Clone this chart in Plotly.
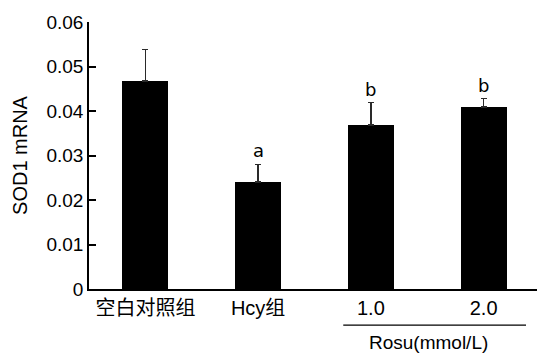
import plotly.graph_objects as go

categories = ["空白对照组", "Hcy组", "1.0", "2.0"]
means = [0.0467, 0.0241, 0.0368, 0.0409]
errors = [0.0071, 0.0039, 0.0051, 0.0019]
letters = ["", "a", "b", "b"]
y_ticks = [0, 0.01, 0.02, 0.03, 0.04, 0.05, 0.06]
y_tick_text = ["0", "0.01", "0.02", "0.03", "0.04", "0.05", "0.06"]
group_label = "Rosu(mmol/L)"
y_title = "SOD1 mRNA"

FONT = "Liberation Sans, Arial, Noto Sans CJK SC, sans-serif"

fig = go.Figure()
fig.add_trace(go.Bar(
    x=list(range(len(categories))),
    y=means,
    width=0.41,
    marker=dict(color="black", line=dict(width=0)),
    error_y=dict(type="data", array=errors, symmetric=False, arrayminus=[0]*len(errors),
                 color="#2a2a2a", thickness=1.5, width=3),
))

for i, (m, e, t) in enumerate(zip(means, errors, letters)):
    if t:
        fig.add_annotation(x=i, y=m + e, text=t, showarrow=False, yanchor="bottom",
                           yshift=1, font=dict(family="DejaVu Sans", size=18, color="black"))

# group line and label under the Rosu doses
fig.add_shape(type="line", xref="x", yref="paper", x0=1.755, x1=3.376, y0=-0.135, y1=-0.135,
              line=dict(color="black", width=1.2))
fig.add_annotation(x=2.51, xref="x", y=-0.2, yref="paper", text=group_label, showarrow=False,
                   yanchor="middle", font=dict(family=FONT, size=19, color="black"))

# page body has an 8px margin, so the figure is drawn 8px smaller and offset
fig.update_layout(
    width=537, height=349,
    margin=dict(l=81, r=5, t=13.5, b=67.5),
    plot_bgcolor="white", paper_bgcolor="white",
    showlegend=False,
    font=dict(family=FONT, size=19, color="black"),
    bargap=0,
)
fig.update_xaxes(
    range=[-0.5, 3.5], tickmode="array", tickvals=list(range(len(categories))), ticktext=categories,
    showline=True, linecolor="black", linewidth=1.5, ticks="", showgrid=False, zeroline=False,
    tickfont=dict(family=FONT, size=20),
)
fig.update_yaxes(
    range=[0, 0.06], tickmode="array", tickvals=y_ticks, ticktext=y_tick_text,
    showline=True, linecolor="black", linewidth=1.5, ticks="inside", ticklen=7, tickwidth=1.5,
    tickcolor="black", showgrid=False, zeroline=False,
    title=dict(text=y_title, standoff=13, font=dict(family=FONT, size=20)),
    tickfont=dict(family=FONT, size=19),
)

fig.write_html("out.html")
